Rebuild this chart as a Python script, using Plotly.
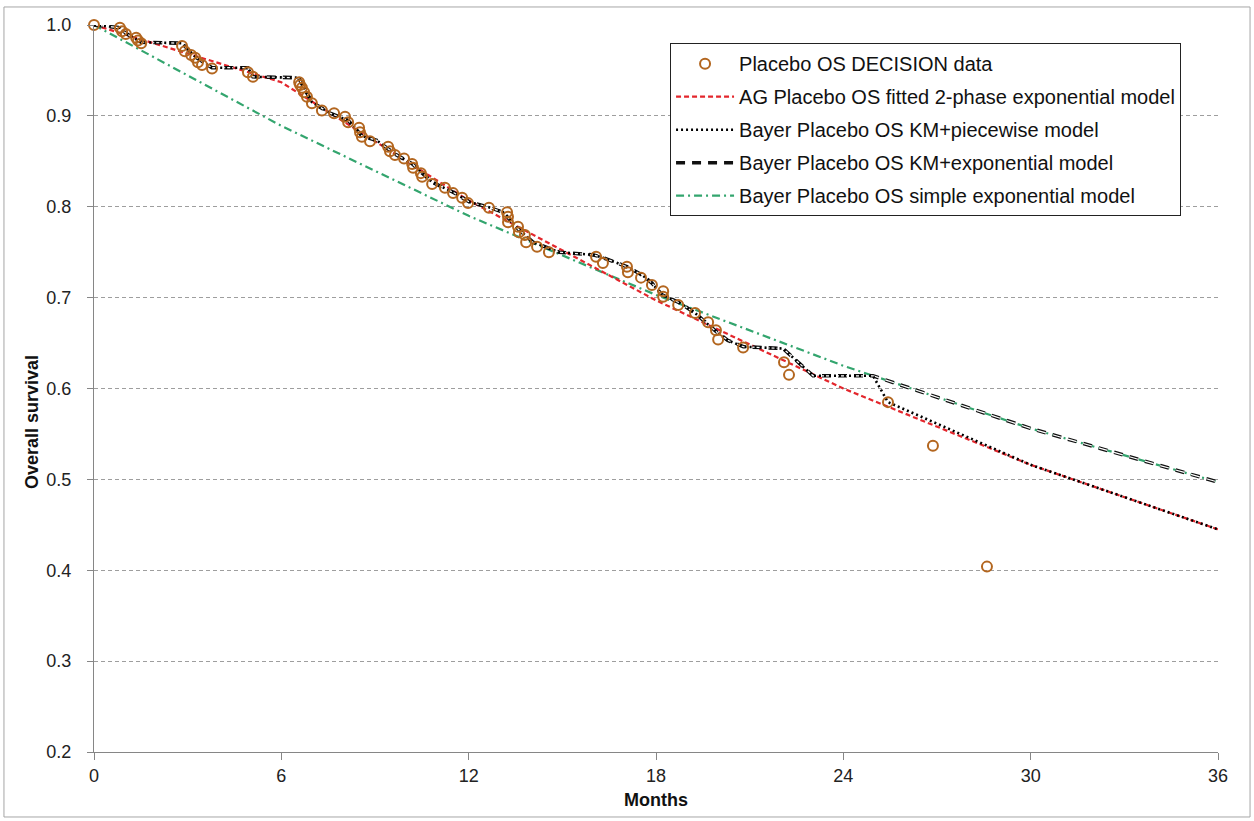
import plotly.graph_objects as go

# Observed placebo overall survival (DECISION trial)
data_months = [0, 0.83, 0.90, 1.02, 1.35, 1.41, 1.51, 2.82, 2.91, 3.11, 3.24, 3.33, 3.46, 3.78,
               4.93, 5.09, 6.57, 6.60, 6.66, 6.73, 6.82, 6.98, 7.30, 7.69, 8.04, 8.14, 8.49, 8.52,
               8.58, 8.84, 9.42, 9.48, 9.64, 9.93, 10.19, 10.22, 10.47, 10.51, 10.83, 11.24, 11.50,
               11.79, 11.98, 12.65, 13.23, 13.26, 13.26, 13.58, 13.61, 13.80, 13.84, 14.19, 14.57,
               16.08, 16.30, 17.07, 17.10, 17.52, 17.87, 18.23, 18.23, 18.71, 19.25, 19.67, 19.92,
               19.99, 20.79, 22.10, 22.26, 25.43, 26.87, 28.60]
data_surv = [1.000, 0.997, 0.993, 0.990, 0.986, 0.983, 0.980, 0.977, 0.971, 0.967, 0.964, 0.959,
             0.956, 0.952, 0.948, 0.943, 0.937, 0.934, 0.931, 0.926, 0.921, 0.914, 0.906, 0.903,
             0.899, 0.893, 0.887, 0.882, 0.877, 0.872, 0.866, 0.861, 0.857, 0.853, 0.847, 0.843,
             0.837, 0.833, 0.825, 0.821, 0.815, 0.810, 0.804, 0.799, 0.794, 0.789, 0.783, 0.778,
             0.772, 0.769, 0.761, 0.756, 0.750, 0.745, 0.738, 0.734, 0.728, 0.722, 0.714, 0.707,
             0.701, 0.692, 0.683, 0.673, 0.664, 0.654, 0.645, 0.629, 0.615, 0.585, 0.537, 0.404]

# AG fitted 2-phase exponential model
ag_months = [0, 6, 12, 18, 24, 30, 36]
ag_surv = [1.000, 0.937, 0.807, 0.697, 0.600, 0.516, 0.445]

# Bayer simple exponential model
simple_months = [0, 6, 12, 18, 24, 30, 36]
simple_surv = [1.000, 0.889, 0.790, 0.703, 0.625, 0.556, 0.497]

# Bayer Kaplan-Meier portion shared by both KM+ models
km_months = [0, 0.83, 1.02, 1.51, 2.82, 3.24, 3.78, 4.93, 5.09, 6.55, 6.98, 7.56, 8.14, 8.58,
             9.06, 9.64, 10.2, 10.83, 11.5, 12.04, 12.6, 13.1, 13.6, 14.06, 14.9, 16.0, 16.3,
             17.07, 17.55, 17.87, 18.2, 18.77, 19.25, 19.95, 20.3, 20.8, 22.07, 23.03, 24.95]
km_surv = [1.000, 0.997, 0.991, 0.981, 0.980, 0.965, 0.953, 0.953, 0.943, 0.942, 0.915, 0.903,
           0.895, 0.878, 0.873, 0.858, 0.847, 0.827, 0.816, 0.805, 0.800, 0.794, 0.775, 0.761,
           0.750, 0.747, 0.744, 0.734, 0.725, 0.716, 0.703, 0.694, 0.683, 0.662, 0.653, 0.646,
           0.644, 0.614, 0.614]

# Tails after the KM portion
piecewise_tail_months = [25.43, 30, 36]
piecewise_tail_surv = [0.585, 0.516, 0.445]
exp_tail_months = [30, 36]
exp_tail_surv = [0.556, 0.497]

x_ticks = [0, 6, 12, 18, 24, 30, 36]
y_ticks = [0.2, 0.3, 0.4, 0.5, 0.6, 0.7, 0.8, 0.9, 1.0]

RED = "#E3262C"
GREEN = "#33A56E"
BROWN = "#B3661F"
FONT = "Liberation Sans, Arial, sans-serif"

fig = go.Figure()

fig.add_trace(go.Scatter(
    x=simple_months, y=simple_surv, mode="lines",
    name="Bayer Placebo OS simple exponential model",
    line=dict(color=GREEN, width=2.2, dash="8px,4px,2px,4px"),
    cliponaxis=False, legendrank=5, legendgroup="e"))

fig.add_trace(go.Scatter(
    x=ag_months, y=ag_surv, mode="lines",
    name="AG Placebo OS fitted 2-phase exponential model",
    line=dict(color=RED, width=2.2, dash="5px,3px"),
    cliponaxis=False, legendrank=2, legendgroup="b"))

exp_x = km_months + exp_tail_months
exp_y = km_surv + exp_tail_surv
fig.add_trace(go.Scatter(
    x=exp_x, y=exp_y, mode="lines",
    name="Bayer Placebo OS KM+exponential model",
    line=dict(color="#111111", width=3.6, dash="9px,7px"),
    cliponaxis=False, legendrank=4, legendgroup="d"))
fig.add_trace(go.Scatter(
    x=exp_x, y=exp_y, mode="lines", showlegend=False, hoverinfo="skip",
    line=dict(color="#FFFFFF", width=1.2, dash="9px,7px"),
    cliponaxis=False, legendgroup="d"))

fig.add_trace(go.Scatter(
    x=km_months + piecewise_tail_months, y=km_surv + piecewise_tail_surv, mode="lines",
    name="Bayer Placebo OS KM+piecewise model",
    line=dict(color="#000000", width=2.6, dash="2px,3px"),
    cliponaxis=False, legendrank=3, legendgroup="c"))

fig.add_trace(go.Scatter(
    x=data_months, y=data_surv, mode="markers",
    name="Placebo OS DECISION data",
    marker=dict(symbol="circle-open", size=10, color=BROWN, line=dict(width=2, color=BROWN)),
    cliponaxis=False, legendrank=1, legendgroup="a"))

axis_color = "#868686"
fig.update_xaxes(
    range=[0, 36], tickvals=x_ticks, ticktext=[str(v) for v in x_ticks],
    showline=True, linecolor=axis_color, linewidth=1,
    ticks="outside", ticklen=7, tickcolor=axis_color,
    showgrid=False, zeroline=False,
    tickfont=dict(family=FONT, size=18, color="#222222"))
fig.update_yaxes(
    range=[0.2, 1.0], tickvals=y_ticks, ticktext=[f"{v:.1f}" for v in y_ticks],
    showline=True, linecolor=axis_color, linewidth=1,
    ticks="outside", ticklen=6, tickcolor=axis_color,
    showgrid=True, gridcolor="#9E9E9E", gridwidth=1, griddash="4px,3px",
    zeroline=False, ticklabelstandoff=12,
    tickfont=dict(family=FONT, size=18, color="#222222"))

fig.update_layout(
    width=1254, height=821,
    margin=dict(l=94, r=36, t=25, b=69),
    paper_bgcolor="white", plot_bgcolor="white",
    font=dict(family=FONT, color="#111111"),
    showlegend=True,
    legend=dict(
        x=0.5125, y=0.975, xanchor="left", yanchor="top",
        bgcolor="white", bordercolor="#222222", borderwidth=1,
        font=dict(family=FONT, size=20, color="#111111"),
        itemwidth=58, tracegroupgap=4, traceorder="grouped"),
    annotations=[
        dict(text="<b>Months</b>", xref="paper", yref="paper", x=0.5, y=-0.066,
             xanchor="center", yanchor="middle",
             showarrow=False, font=dict(family=FONT, size=18, color="#111111")),
        dict(text="<b>Overall survival</b>", xref="paper", yref="paper", x=-0.0552, y=0.4539,
             xanchor="center", yanchor="middle",
             textangle=-90, showarrow=False, font=dict(family=FONT, size=18, color="#111111")),
    ],
    shapes=[
        dict(type="rect", xref="paper", yref="paper",
             x0=-0.0801, x1=1.0285, y0=-0.0894, y1=1.0248,
             line=dict(color="#A6A6A6", width=1), layer="below"),
    ],
)

fig.write_html("out.html")
